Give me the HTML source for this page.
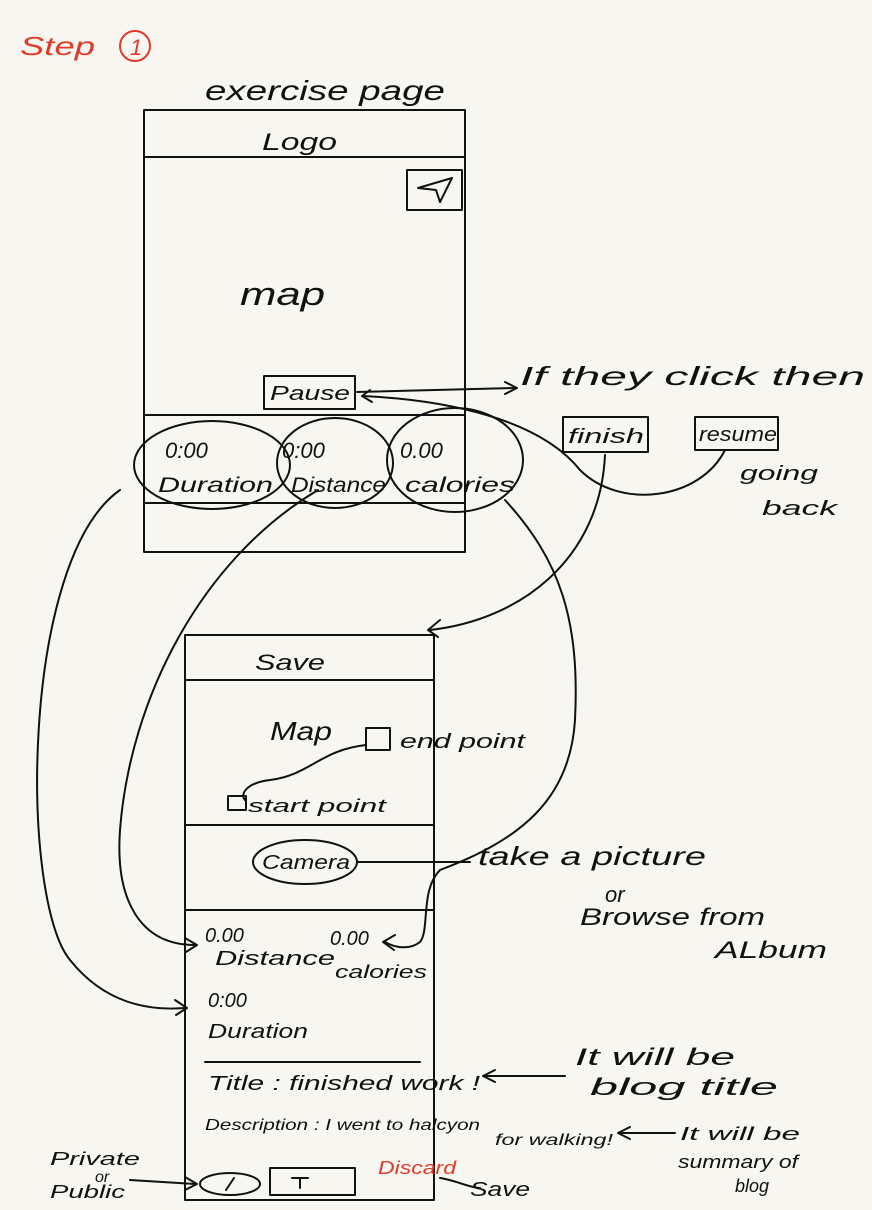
<!DOCTYPE html>
<html><head><meta charset="utf-8"><style>
html,body{margin:0;padding:0;background:#f8f6f1;}
svg{display:block}
text{font-family:"Liberation Sans",sans-serif;fill:#111;font-style:italic}
</style></head><body>
<svg width="872" height="1210" viewBox="0 0 872 1210" xmlns="http://www.w3.org/2000/svg">
<rect width="872" height="1210" fill="#f8f6f1"/>
<g fill="none" stroke="#111" stroke-width="2" stroke-linecap="round" stroke-linejoin="round">
<rect x="144" y="110" width="321" height="442"/>
<line x1="144" y1="157" x2="465" y2="157"/>
<rect x="407" y="170" width="55" height="40"/>
<path d="M418 188 L452 178 L440 202 L436 190 Z"/>
<line x1="144" y1="415" x2="465" y2="415"/>
<line x1="144" y1="503" x2="465" y2="503"/>
<rect x="264" y="376" width="91" height="33"/>
<ellipse cx="212" cy="465" rx="78" ry="44"/>
<ellipse cx="335" cy="463" rx="58" ry="45"/>
<ellipse cx="455" cy="460" rx="68" ry="52"/>
<rect x="563" y="417" width="85" height="35"/>
<rect x="695" y="417" width="83" height="33"/>
<path d="M357 392 L515 388"/>
<path d="M505 382 L517 388 L505 394"/>
<path d="M370 390 L362 396 L372 402"/>
<path d="M362 396 C450 400 540 420 580 470 C620 510 700 500 725 450"/>
<path d="M605 455 C600 560 520 620 430 630"/>
<path d="M440 620 L428 630 L438 637"/>
<rect x="185" y="635" width="249" height="565"/>
<line x1="185" y1="680" x2="434" y2="680"/>
<line x1="185" y1="825" x2="434" y2="825"/>
<line x1="185" y1="910" x2="434" y2="910"/>
<rect x="366" y="728" width="24" height="22"/>
<rect x="228" y="796" width="18" height="14"/>
<path d="M366 745 C320 750 310 775 270 780 C245 783 240 795 245 800"/>
<ellipse cx="305" cy="862" rx="52" ry="22"/>
<path d="M357 862 L470 862"/>
<line x1="205" y1="1062" x2="420" y2="1062"/>
<path d="M120 490 C20 560 20 900 70 960 C110 1010 160 1010 185 1008"/>
<path d="M175 1000 L187 1008 L176 1015"/>
<path d="M318 490 C200 560 130 700 120 830 C115 900 140 945 195 945"/>
<path d="M185 938 L197 945 L186 952"/>
<path d="M505 500 C560 560 580 620 575 720 C570 800 520 840 440 870 C420 890 430 930 420 942 C410 950 395 948 385 942"/>
<path d="M395 935 L383 942 L394 950"/>
<path d="M485 1076 L565 1076"/>
<path d="M495 1070 L483 1076 L495 1082"/>
<path d="M620 1133 L675 1133"/>
<path d="M630 1127 L618 1133 L630 1139"/>
<ellipse cx="230" cy="1184" rx="30" ry="11"/>
<path d="M226 1190 L234 1178"/>
<rect x="270" y="1168" width="85" height="27"/>
<path d="M300 1178 L300 1188 M292 1178 L308 1178"/>
<path d="M130 1180 L195 1184"/>
<path d="M185 1177 L197 1184 L185 1190"/>
<path d="M440 1178 C455 1180 470 1188 480 1188"/>
</g>
<text x="20" y="55" font-size="26" style="fill:#e03a2a" textLength="75" lengthAdjust="spacingAndGlyphs">Step</text>
<circle cx="135" cy="46" r="15" fill="none" stroke="#e03a2a" stroke-width="2"/>
<text x="130" y="55" font-size="22" style="fill:#e03a2a">1</text>
<text x="205" y="100" font-size="28" textLength="240" lengthAdjust="spacingAndGlyphs">exercise page</text>
<text x="262" y="150" font-size="24" textLength="75" lengthAdjust="spacingAndGlyphs">Logo</text>
<text x="240" y="305" font-size="32" textLength="85" lengthAdjust="spacingAndGlyphs">map</text>
<text x="270" y="400" font-size="20" textLength="80" lengthAdjust="spacingAndGlyphs">Pause</text>
<text x="165" y="458" font-size="22">0:00</text>
<text x="158" y="492" font-size="21" textLength="115" lengthAdjust="spacingAndGlyphs">Duration</text>
<text x="282" y="458" font-size="22">0:00</text>
<text x="291" y="492" font-size="21" textLength="95" lengthAdjust="spacingAndGlyphs">Distance</text>
<text x="400" y="458" font-size="22">0.00</text>
<text x="405" y="492" font-size="21" textLength="110" lengthAdjust="spacingAndGlyphs">calories</text>
<text x="520" y="385" font-size="26" textLength="345" lengthAdjust="spacingAndGlyphs">If they click then</text>
<text x="568" y="443" font-size="20" textLength="76" lengthAdjust="spacingAndGlyphs">finish</text>
<text x="699" y="441" font-size="20" textLength="78" lengthAdjust="spacingAndGlyphs">resume</text>
<text x="740" y="480" font-size="20" textLength="78" lengthAdjust="spacingAndGlyphs">going</text>
<text x="762" y="515" font-size="20" textLength="75" lengthAdjust="spacingAndGlyphs">back</text>
<text x="255" y="670" font-size="22" textLength="70" lengthAdjust="spacingAndGlyphs">Save</text>
<text x="270" y="740" font-size="26" textLength="62" lengthAdjust="spacingAndGlyphs">Map</text>
<text x="400" y="748" font-size="20" textLength="125" lengthAdjust="spacingAndGlyphs">end point</text>
<text x="248" y="812" font-size="18" textLength="138" lengthAdjust="spacingAndGlyphs">start point</text>
<text x="262" y="869" font-size="20" textLength="88" lengthAdjust="spacingAndGlyphs">Camera</text>
<text x="478" y="865" font-size="26" textLength="228" lengthAdjust="spacingAndGlyphs">take a picture</text>
<text x="605" y="902" font-size="22">or</text>
<text x="580" y="925" font-size="24" textLength="185" lengthAdjust="spacingAndGlyphs">Browse from</text>
<text x="715" y="958" font-size="24" textLength="112" lengthAdjust="spacingAndGlyphs">ALbum</text>
<text x="205" y="942" font-size="20">0.00</text>
<text x="215" y="965" font-size="20" textLength="120" lengthAdjust="spacingAndGlyphs">Distance</text>
<text x="330" y="945" font-size="20">0.00</text>
<text x="335" y="978" font-size="18" textLength="92" lengthAdjust="spacingAndGlyphs">calories</text>
<text x="208" y="1007" font-size="20">0:00</text>
<text x="208" y="1038" font-size="20" textLength="100" lengthAdjust="spacingAndGlyphs">Duration</text>
<text x="208" y="1090" font-size="20" textLength="272" lengthAdjust="spacingAndGlyphs">Title : finished work !</text>
<text x="575" y="1065" font-size="24" textLength="160" lengthAdjust="spacingAndGlyphs">It will be</text>
<text x="590" y="1095" font-size="24" textLength="188" lengthAdjust="spacingAndGlyphs">blog title</text>
<text x="205" y="1130" font-size="16" textLength="275" lengthAdjust="spacingAndGlyphs">Description : I went to halcyon</text>
<text x="495" y="1145" font-size="16" textLength="118" lengthAdjust="spacingAndGlyphs">for walking!</text>
<text x="680" y="1140" font-size="18" textLength="120" lengthAdjust="spacingAndGlyphs">It will be</text>
<text x="678" y="1168" font-size="18" textLength="120" lengthAdjust="spacingAndGlyphs">summary of</text>
<text x="735" y="1192" font-size="18">blog</text>
<text x="50" y="1165" font-size="18" textLength="90" lengthAdjust="spacingAndGlyphs">Private</text>
<text x="95" y="1182" font-size="16">or</text>
<text x="50" y="1198" font-size="18" textLength="75" lengthAdjust="spacingAndGlyphs">Public</text>
<text x="378" y="1174" font-size="18" style="fill:#e03a2a" textLength="78" lengthAdjust="spacingAndGlyphs">Discard</text>
<text x="470" y="1196" font-size="20" textLength="60" lengthAdjust="spacingAndGlyphs">Save</text>
</svg>
</body></html>
